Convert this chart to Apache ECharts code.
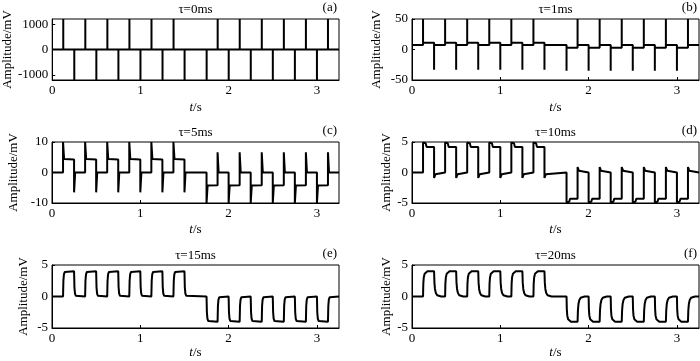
<!DOCTYPE html>
<html>
<head>
<meta charset="utf-8">
<script src="https://cdn.jsdelivr.net/npm/echarts@6/dist/echarts.min.js"></script>
<style>
html,body{margin:0;padding:0;background:#fff;}
#chart{width:700px;height:361px;}
</style>
</head>
<body>
<div id="chart"></div>
<script>
// ---- data (t in s, amplitude in mV) ----
const xTicks = [0, 1, 2, 3];
const titles = ['τ=0ms', 'τ=1ms', 'τ=5ms', 'τ=10ms', 'τ=15ms', 'τ=20ms'];
const tags = ['(a)', '(b)', '(c)', '(d)', '(e)', '(f)'];

const yTicks0 = [-1000, 0, 1000];
const yTicks1 = [-50, 0, 50];
const yTicks5 = [-10, 0, 10];
const yTicks10 = [-5, 0, 5];
const yTicks15 = [-5, 0, 5];
const yTicks20 = [-5, 0, 5];
const yRange0 = [-1200, 1200];
const yRange1 = [-50, 50];
const yRange5 = [-10, 10];
const yRange10 = [-5, 5];
const yRange15 = [-5, 5];
const yRange20 = [-5, 5];

const tau0 = [
 [0,0],
 [0.125,0],[0.125,1200],[0.125,0],[0.25,0],[0.25,-1200],[0.25,0],
 [0.375,0],[0.375,1200],[0.375,0],[0.5,0],[0.5,-1200],[0.5,0],
 [0.625,0],[0.625,1200],[0.625,0],[0.75,0],[0.75,-1200],[0.75,0],
 [0.875,0],[0.875,1200],[0.875,0],[1.0,0],[1.0,-1200],[1.0,0],
 [1.125,0],[1.125,1200],[1.125,0],[1.25,0],[1.25,-1200],[1.25,0],
 [1.375,0],[1.375,1200],[1.375,0],[1.5,0],[1.5,-1200],[1.5,0],
 [1.75,0],[1.75,-1200],[1.75,0],[1.875,0],[1.875,1200],[1.875,0],
 [2.0,0],[2.0,-1200],[2.0,0],[2.125,0],[2.125,1200],[2.125,0],
 [2.25,0],[2.25,-1200],[2.25,0],[2.375,0],[2.375,1200],[2.375,0],
 [2.5,0],[2.5,-1200],[2.5,0],[2.625,0],[2.625,1200],[2.625,0],
 [2.75,0],[2.75,-1200],[2.75,0],[2.875,0],[2.875,1200],[2.875,0],
 [3.0,0],[3.0,-1200],[3.0,0],[3.125,0],[3.125,1200],[3.125,0],
 [3.25,0]
];

const tau1 = [
 [0,7.5],
 [0.125,7.5],[0.125,50],[0.125,11],[0.25,11],[0.25,-33],[0.25,7.5],
 [0.375,7.5],[0.375,50],[0.375,11],[0.5,11],[0.5,-33],[0.5,7.5],
 [0.625,7.5],[0.625,50],[0.625,11],[0.75,11],[0.75,-33],[0.75,7.5],
 [0.875,7.5],[0.875,50],[0.875,11],[1.0,11],[1.0,-33],[1.0,7.5],
 [1.125,7.5],[1.125,50],[1.125,11],[1.25,11],[1.25,-33],[1.25,7.5],
 [1.375,7.5],[1.375,50],[1.375,11],[1.5,11],[1.5,-33],[1.5,7.5],
 [1.75,7.5],[1.75,-35],[1.75,3],[1.875,3],[1.875,50],[1.875,7.5],
 [2.0,7.5],[2.0,-35],[2.0,3],[2.125,3],[2.125,50],[2.125,7.5],
 [2.25,7.5],[2.25,-35],[2.25,3],[2.375,3],[2.375,50],[2.375,7.5],
 [2.5,7.5],[2.5,-35],[2.5,3],[2.625,3],[2.625,50],[2.625,7.5],
 [2.75,7.5],[2.75,-35],[2.75,3],[2.875,3],[2.875,50],[2.875,7.5],
 [3.0,7.5],[3.0,-35],[3.0,3],[3.125,3],[3.125,50],[3.125,7.5],
 [3.25,7.5]
];

const tau5 = [
 [0,0],
 [0.125,0],[0.125,10],[0.137,4.4],[0.25,4.3],[0.25,-6.5],[0.262,0],
 [0.375,0],[0.375,10],[0.387,4.4],[0.5,4.3],[0.5,-6.5],[0.512,0],
 [0.625,0],[0.625,10],[0.637,4.4],[0.75,4.3],[0.75,-6.5],[0.762,0],
 [0.875,0],[0.875,10],[0.887,4.4],[1.0,4.3],[1.0,-6.5],[1.012,0],
 [1.125,0],[1.125,10],[1.137,4.4],[1.25,4.3],[1.25,-6.5],[1.262,0],
 [1.375,0],[1.375,10],[1.387,4.4],[1.5,4.3],[1.5,-6.5],[1.512,0],
 [1.75,0],[1.75,-10],[1.762,-4.3],[1.875,-4.2],[1.875,6.6],[1.887,0],
 [2.0,0],[2.0,-10],[2.012,-4.3],[2.125,-4.2],[2.125,6.6],[2.137,0],
 [2.25,0],[2.25,-10],[2.262,-4.3],[2.375,-4.2],[2.375,6.6],[2.387,0],
 [2.5,0],[2.5,-10],[2.512,-4.3],[2.625,-4.2],[2.625,6.6],[2.637,0],
 [2.75,0],[2.75,-10],[2.762,-4.3],[2.875,-4.2],[2.875,6.6],[2.887,0],
 [3.0,0],[3.0,-10],[3.012,-4.3],[3.125,-4.2],[3.125,6.6],[3.137,0],
 [3.25,0]
];

const tau10 = [
 [0,0],
 [0.125,0],[0.125,4.9],[0.155,4.8],[0.165,4.2],[0.25,4.2],[0.25,-0.9],[0.265,-0.3],[0.28,0],
 [0.375,0],[0.375,4.9],[0.405,4.8],[0.415,4.2],[0.5,4.2],[0.5,-0.9],[0.515,-0.3],[0.53,0],
 [0.625,0],[0.625,4.9],[0.655,4.8],[0.665,4.2],[0.75,4.2],[0.75,-0.9],[0.765,-0.3],[0.78,0],
 [0.875,0],[0.875,4.9],[0.905,4.8],[0.915,4.2],[1.0,4.2],[1.0,-0.9],[1.015,-0.3],[1.03,0],
 [1.125,0],[1.125,4.9],[1.155,4.8],[1.165,4.2],[1.25,4.2],[1.25,-0.9],[1.265,-0.3],[1.28,0],
 [1.375,0],[1.375,4.9],[1.405,4.8],[1.415,4.2],[1.5,4.2],[1.5,-0.9],[1.515,-0.3],[1.53,0],
 [1.75,0],[1.75,-4.9],[1.78,-4.8],[1.79,-4.3],[1.875,-4.3],[1.875,0.9],[1.89,0.3],[1.905,0],
 [2.0,0],[2.0,-4.9],[2.03,-4.8],[2.04,-4.3],[2.125,-4.3],[2.125,0.9],[2.14,0.3],[2.155,0],
 [2.25,0],[2.25,-4.9],[2.28,-4.8],[2.29,-4.3],[2.375,-4.3],[2.375,0.9],[2.39,0.3],[2.405,0],
 [2.5,0],[2.5,-4.9],[2.53,-4.8],[2.54,-4.3],[2.625,-4.3],[2.625,0.9],[2.64,0.3],[2.655,0],
 [2.75,0],[2.75,-4.9],[2.78,-4.8],[2.79,-4.3],[2.875,-4.3],[2.875,0.9],[2.89,0.3],[2.905,0],
 [3.0,0],[3.0,-4.9],[3.03,-4.8],[3.04,-4.3],[3.125,-4.3],[3.125,0.9],[3.14,0.3],[3.155,0],
 [3.25,0]
];

const tau15 = [
 [0,0],
 [0.125,0],[0.129,2.5],[0.135,3.5],[0.145,3.9],[0.16,4],[0.25,4],[0.254,1.5],[0.26,0.5],[0.27,0.1],[0.285,0],
 [0.375,0],[0.379,2.5],[0.385,3.5],[0.395,3.9],[0.41,4],[0.5,4],[0.504,1.5],[0.51,0.5],[0.52,0.1],[0.535,0],
 [0.625,0],[0.629,2.5],[0.635,3.5],[0.645,3.9],[0.66,4],[0.75,4],[0.754,1.5],[0.76,0.5],[0.77,0.1],[0.785,0],
 [0.875,0],[0.879,2.5],[0.885,3.5],[0.895,3.9],[0.91,4],[1.0,4],[1.004,1.5],[1.01,0.5],[1.02,0.1],[1.035,0],
 [1.125,0],[1.129,2.5],[1.135,3.5],[1.145,3.9],[1.16,4],[1.25,4],[1.254,1.5],[1.26,0.5],[1.27,0.1],[1.285,0],
 [1.375,0],[1.379,2.5],[1.385,3.5],[1.395,3.9],[1.41,4],[1.5,4],[1.504,1.5],[1.51,0.5],[1.52,0.1],[1.535,0],
 [1.75,0],[1.754,-2.5],[1.76,-3.5],[1.77,-3.9],[1.785,-4],[1.875,-4],[1.879,-1.5],[1.885,-0.5],[1.895,-0.1],[1.91,0],
 [2.0,0],[2.004,-2.5],[2.01,-3.5],[2.02,-3.9],[2.035,-4],[2.125,-4],[2.129,-1.5],[2.135,-0.5],[2.145,-0.1],[2.16,0],
 [2.25,0],[2.254,-2.5],[2.26,-3.5],[2.27,-3.9],[2.285,-4],[2.375,-4],[2.379,-1.5],[2.385,-0.5],[2.395,-0.1],[2.41,0],
 [2.5,0],[2.504,-2.5],[2.51,-3.5],[2.52,-3.9],[2.535,-4],[2.625,-4],[2.629,-1.5],[2.635,-0.5],[2.645,-0.1],[2.66,0],
 [2.75,0],[2.754,-2.5],[2.76,-3.5],[2.77,-3.9],[2.785,-4],[2.875,-4],[2.879,-1.5],[2.885,-0.5],[2.895,-0.1],[2.91,0],
 [3.0,0],[3.004,-2.5],[3.01,-3.5],[3.02,-3.9],[3.035,-4],[3.125,-4],[3.129,-1.5],[3.135,-0.5],[3.145,-0.1],[3.16,0],
 [3.25,0]
];

const tau20 = [
 [0,0],
 [0.125,0],[0.128,2.0],[0.133,3.0],[0.143,3.6],[0.155,3.85],[0.175,4],[0.25,4],[0.254,2.2],[0.26,1.2],[0.27,0.55],[0.285,0.2],[0.305,0.05],[0.33,0],
 [0.375,0],[0.378,2.0],[0.383,3.0],[0.393,3.6],[0.405,3.85],[0.425,4],[0.5,4],[0.504,2.2],[0.51,1.2],[0.52,0.55],[0.535,0.2],[0.555,0.05],[0.58,0],
 [0.625,0],[0.628,2.0],[0.633,3.0],[0.643,3.6],[0.655,3.85],[0.675,4],[0.75,4],[0.754,2.2],[0.76,1.2],[0.77,0.55],[0.785,0.2],[0.805,0.05],[0.83,0],
 [0.875,0],[0.878,2.0],[0.883,3.0],[0.893,3.6],[0.905,3.85],[0.925,4],[1.0,4],[1.004,2.2],[1.01,1.2],[1.02,0.55],[1.035,0.2],[1.055,0.05],[1.08,0],
 [1.125,0],[1.128,2.0],[1.133,3.0],[1.143,3.6],[1.155,3.85],[1.175,4],[1.25,4],[1.254,2.2],[1.26,1.2],[1.27,0.55],[1.285,0.2],[1.305,0.05],[1.33,0],
 [1.375,0],[1.378,2.0],[1.383,3.0],[1.393,3.6],[1.405,3.85],[1.425,4],[1.5,4],[1.504,2.2],[1.51,1.2],[1.52,0.55],[1.535,0.2],[1.555,0.05],[1.58,0],
 [1.75,0],[1.753,-2.0],[1.758,-3.0],[1.768,-3.6],[1.78,-3.85],[1.8,-4],[1.875,-4],[1.879,-2.2],[1.885,-1.2],[1.895,-0.55],[1.91,-0.2],[1.93,-0.05],[1.955,0],
 [2.0,0],[2.003,-2.0],[2.008,-3.0],[2.018,-3.6],[2.03,-3.85],[2.05,-4],[2.125,-4],[2.129,-2.2],[2.135,-1.2],[2.145,-0.55],[2.16,-0.2],[2.18,-0.05],[2.205,0],
 [2.25,0],[2.253,-2.0],[2.258,-3.0],[2.268,-3.6],[2.28,-3.85],[2.3,-4],[2.375,-4],[2.379,-2.2],[2.385,-1.2],[2.395,-0.55],[2.41,-0.2],[2.43,-0.05],[2.455,0],
 [2.5,0],[2.503,-2.0],[2.508,-3.0],[2.518,-3.6],[2.53,-3.85],[2.55,-4],[2.625,-4],[2.629,-2.2],[2.635,-1.2],[2.645,-0.55],[2.66,-0.2],[2.68,-0.05],[2.705,0],
 [2.75,0],[2.753,-2.0],[2.758,-3.0],[2.768,-3.6],[2.78,-3.85],[2.8,-4],[2.875,-4],[2.879,-2.2],[2.885,-1.2],[2.895,-0.55],[2.91,-0.2],[2.93,-0.05],[2.955,0],
 [3.0,0],[3.003,-2.0],[3.008,-3.0],[3.018,-3.6],[3.03,-3.85],[3.05,-4],[3.125,-4],[3.129,-2.2],[3.135,-1.2],[3.145,-0.55],[3.16,-0.2],[3.18,-0.05],[3.205,0],
 [3.25,0]
];

// ---- layout ----
const FONT = '"Liberation Serif", "Times New Roman", serif';
const series = [tau0, tau1, tau5, tau10, tau15, tau20];
const yTicks = [yTicks0, yTicks1, yTicks5, yTicks10, yTicks15, yTicks20];
const yRanges = [yRange0, yRange1, yRange5, yRange10, yRange15, yRange20];
const grids = [
  {left: 52, top: 19, width: 287, height: 61},
  {left: 412, top: 19, width: 287, height: 61},
  {left: 52, top: 142, width: 287, height: 61},
  {left: 412, top: 142, width: 287, height: 61},
  {left: 52, top: 265, width: 287, height: 63},
  {left: 412, top: 265, width: 287, height: 63}
];
const yNameGaps = [37, 29, 32, 16, 22, 18];
const xNameGaps = [21, 21, 20, 20, 16, 16];

const option = {
  animation: false,
  backgroundColor: '#fff',
  grid: grids.map(g => Object.assign({show: true, borderColor: '#000', borderWidth: 1, backgroundColor: 'transparent'}, g)),
  xAxis: grids.map((g, i) => ({
    type: 'value', gridIndex: i, min: 0, max: 3.25,
    name: '{it|t}/s', nameLocation: 'middle', nameGap: xNameGaps[i],
    nameTextStyle: {fontFamily: FONT, fontSize: 13, color: '#000',
      rich: {it: {fontFamily: FONT, fontSize: 13, fontStyle: 'italic', color: '#000'}}},
    axisLine: {show: true, onZero: false, lineStyle: {color: '#000', width: 1}},
    axisTick: {show: true, inside: true, length: 3, customValues: xTicks, lineStyle: {color: '#000'}},
    axisLabel: {customValues: xTicks, margin: 4, fontFamily: FONT, fontSize: 13, color: '#000',
      formatter: v => String(v)},
    splitLine: {show: false}
  })),
  yAxis: grids.map((g, i) => ({
    type: 'value', gridIndex: i, min: yRanges[i][0], max: yRanges[i][1],
    name: 'Amplitude/mV', nameLocation: 'middle', nameGap: yNameGaps[i], nameRotate: 90,
    nameTextStyle: {fontFamily: FONT, fontSize: 13, color: '#000'},
    axisLine: {show: true, onZero: false, lineStyle: {color: '#000', width: 1}},
    axisTick: {show: true, inside: true, length: 3, customValues: yTicks[i], lineStyle: {color: '#000'}},
    axisLabel: {customValues: yTicks[i], margin: 4, fontFamily: FONT, fontSize: 13, color: '#000',
      formatter: v => String(v)},
    splitLine: {show: false}
  })),
  series: series.map((d, i) => ({
    type: 'line', xAxisIndex: i, yAxisIndex: i, data: d,
    showSymbol: false, symbol: 'none', clip: true,
    lineStyle: {color: '#000', width: 2}
  })),
  graphic: grids.map((g, i) => ([
    {type: 'text', x: g.left + g.width / 2, y: g.top - 9,
      style: {text: titles[i], font: '13px ' + FONT, fill: '#000', align: 'center', verticalAlign: 'middle'}},
    {type: 'text', x: g.left + g.width - 2, y: g.top - 11,
      style: {text: tags[i], font: '13px ' + FONT, fill: '#000', align: 'right', verticalAlign: 'middle'}}
  ])).flat()
};

const chart = echarts.init(document.getElementById('chart'), null, {renderer: 'canvas'});
chart.setOption(option);
</script>
</body>
</html>
